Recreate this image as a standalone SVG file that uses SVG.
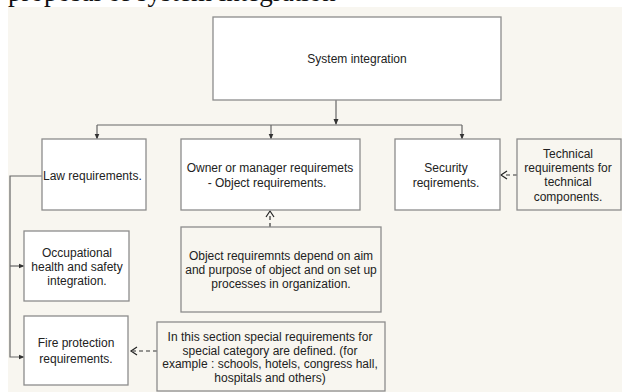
<svg xmlns="http://www.w3.org/2000/svg" width="622" height="392" viewBox="0 0 622 392">
<style>
.box{stroke:#8c8c8c;stroke-width:1.3;fill:#ffffff}
.cream{fill:#f8f6f0}
text{font-family:"Liberation Sans",Arial,sans-serif;font-size:12px;fill:#222}
.c{text-anchor:middle}
.ln{stroke:#666;stroke-width:1.2;fill:none}
.dash{stroke:#333;stroke-width:1.2;fill:none;stroke-dasharray:4 3}
.chev{stroke:#222;stroke-width:1.2;fill:none}
</style>
<defs>
<marker id="tri" viewBox="0 0 6 6" refX="5" refY="3" markerWidth="6" markerHeight="6" orient="auto" markerUnits="userSpaceOnUse">
<path d="M0,0.5 L6,3 L0,5.5 Z" fill="#333"/>
</marker>
</defs>
<rect x="0" y="0" width="622" height="392" fill="#ffffff"/>
<rect x="8" y="7" width="614" height="385" fill="#f8f6f0"/>
<text x="8" y="1" style="font-family:'Liberation Serif','Times New Roman',serif;font-size:27px;fill:#111">proposal of system integration</text>

<g id="connectors">
<line class="ln" x1="336" y1="100" x2="336" y2="124" marker-end="url(#tri)"/>
<line class="ln" x1="97" y1="125" x2="462" y2="125"/>
<line class="ln" x1="97" y1="125" x2="97" y2="138.5" marker-end="url(#tri)"/>
<line class="ln" x1="271" y1="125" x2="271" y2="138.5" marker-end="url(#tri)"/>
<line class="ln" x1="462" y1="125" x2="462" y2="138.5" marker-end="url(#tri)"/>
<polyline class="ln" points="42,176 10,176 10,357 23.5,357" marker-end="url(#tri)"/>
<line class="ln" x1="10" y1="266" x2="23.5" y2="266" marker-end="url(#tri)"/>
<line class="dash" x1="517" y1="175" x2="503" y2="175"/>
<polyline class="chev" points="507,171 501,175 507,179"/>
<line class="dash" x1="270" y1="227" x2="270" y2="213"/>
<polyline class="chev" points="266,217 270,211 274,217"/>
<line class="dash" x1="157" y1="351" x2="133" y2="351"/>
<polyline class="chev" points="137,347 131,351 137,355"/>
</g>

<g id="system-integration">
<rect class="box" x="213" y="17" width="288" height="83"/>
<text class="c" x="357" y="63">System integration</text>
</g>
<g id="law">
<rect class="box" x="42" y="139" width="104" height="71"/>
<text x="43" y="180">Law requirements.</text>
</g>
<g id="owner">
<rect class="box" x="181" y="139" width="179" height="71"/>
<text class="c" x="270" y="172">Owner or manager requiremets</text>
<text class="c" x="267" y="187">- Object requirements.</text>
</g>
<g id="security">
<rect class="box" x="395" y="139" width="105" height="71"/>
<text class="c" x="446" y="172">Security</text>
<text class="c" x="446" y="187">reqirements.</text>
</g>
<g id="technical">
<rect class="box cream" x="517" y="139" width="104" height="71"/>
<text class="c" x="568" y="158">Technical</text>
<text class="c" x="568" y="172">requirements for</text>
<text class="c" x="568" y="186">technical</text>
<text class="c" x="568" y="201">components.</text>
</g>
<g id="occupational">
<rect class="box" x="24" y="231" width="105" height="70"/>
<text class="c" x="77" y="257">Occupational</text>
<text class="c" x="77" y="271">health and safety</text>
<text class="c" x="77" y="285">integration.</text>
</g>
<g id="object">
<rect class="box cream" x="181" y="227" width="200" height="85"/>
<text class="c" x="281" y="260">Object requiremnts depend on aim</text>
<text class="c" x="281" y="274">and purpose of object and on set up</text>
<text class="c" x="281" y="288">processes in organization.</text>
</g>
<g id="fire">
<rect class="box" x="24" y="316" width="104" height="69"/>
<text class="c" x="76" y="347">Fire protection</text>
<text class="c" x="76" y="363">requirements.</text>
</g>
<g id="special">
<rect class="box cream" x="157" y="322" width="228" height="69"/>
<text class="c" x="270" y="341">In this section special requirements for</text>
<text class="c" x="270" y="354.7">special category are defined. (for</text>
<text class="c" x="270" y="368.4">example : schools, hotels, congress hall,</text>
<text class="c" x="270" y="382">hospitals and others)</text>
</g>
</svg>
